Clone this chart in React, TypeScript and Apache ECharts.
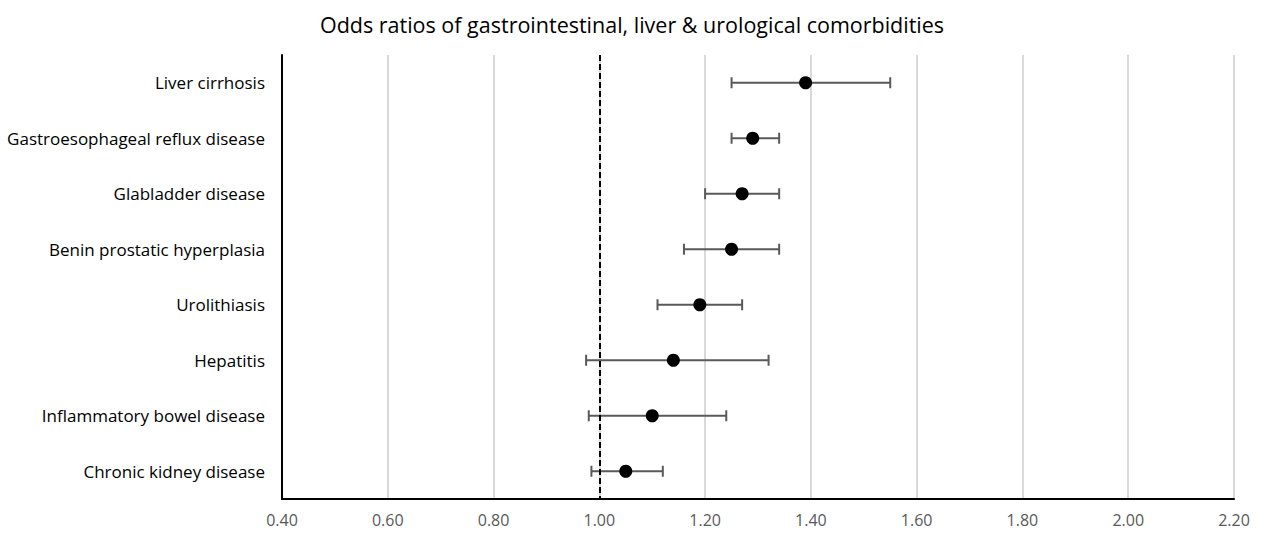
import React, { useEffect, useRef } from "react";
import * as echarts from "echarts";

const categories = [
  "Liver cirrhosis",
  "Gastroesophageal reflux disease",
  "Glabladder disease",
  "Benin prostatic hyperplasia",
  "Urolithiasis",
  "Hepatitis",
  "Inflammatory bowel disease",
  "Chronic kidney disease",
];
const oddsRatios = [1.39, 1.29, 1.27, 1.25, 1.19, 1.14, 1.1, 1.05];
const ciLow = [1.25, 1.25, 1.2, 1.16, 1.11, 0.975, 0.98, 0.985];
const ciHigh = [1.55, 1.34, 1.34, 1.34, 1.27, 1.32, 1.24, 1.12];
const referenceLine = 1.0;
const titleText = "Odds ratios of gastrointestinal, liver & urological comorbidities";

export default function App() {
  const ref = useRef<HTMLDivElement>(null);
  useEffect(() => {
    if (!ref.current) return;
    const chart = echarts.init(ref.current, undefined, { renderer: "svg" });
    const font = "'Open Sans', 'Liberation Sans', sans-serif";
    chart.setOption({
      animation: false,
      backgroundColor: "#ffffff",
      title: {
        text: titleText,
        left: 627,
        textAlign: "center",
        top: 8,
        textStyle: { fontFamily: font, fontSize: 21.5, fontWeight: "normal", color: "#000" },
      },
      grid: { left: 282, right: 30, top: 55, bottom: 41, containLabel: false },
      xAxis: {
        type: "value",
        min: 0.4,
        max: 2.2,
        interval: 0.2,
        axisLine: { show: true, onZero: false, lineStyle: { color: "#000", width: 2 } },
        axisTick: { show: false },
        splitLine: { show: true, lineStyle: { color: "#d9d9d9", width: 2 } },
        axisLabel: {
          formatter: (v: number) => v.toFixed(2),
          color: "#595959",
          fontFamily: font,
          fontSize: 16,
          margin: 13,
        },
      },
      yAxis: {
        type: "category",
        data: categories,
        inverse: true,
        axisLine: { show: true, lineStyle: { color: "#000", width: 2 } },
        axisTick: { show: false },
        splitLine: { show: false },
        axisLabel: { color: "#000", fontFamily: font, fontSize: 17, margin: 17 },
      },
      series: [
        {
          type: "custom",
          name: "CI",
          data: categories.map((c, i) => [ciLow[i], ciHigh[i], i]),
          encode: { x: [0, 1], y: 2 },
          renderItem: (params: any, api: any) => {
            const lo = api.coord([api.value(0), api.value(2)]);
            const hi = api.coord([api.value(1), api.value(2)]);
            const h = 5.5;
            const style = { stroke: "#595959", lineWidth: 2 };
            return {
              type: "group",
              children: [
                { type: "line", shape: { x1: lo[0], y1: lo[1], x2: hi[0], y2: hi[1] }, style },
                { type: "line", shape: { x1: lo[0], y1: lo[1] - h, x2: lo[0], y2: lo[1] + h }, style },
                { type: "line", shape: { x1: hi[0], y1: hi[1] - h, x2: hi[0], y2: hi[1] + h }, style },
              ],
            };
          },
          z: 2,
        },
        {
          type: "scatter",
          name: "OR",
          data: categories.map((c, i) => [oddsRatios[i], c]),
          symbol: "circle",
          symbolSize: 13,
          itemStyle: { color: "#000", opacity: 1 },
          z: 3,
          markLine: {
            silent: true,
            symbol: "none",
            label: { show: false },
            lineStyle: { color: "#000", type: [6, 3], width: 2 },
            data: [{ xAxis: referenceLine }],
          },
        },
      ],
    });
    return () => chart.dispose();
  }, []);
  return (
    <div
      ref={ref}
      style={{ position: "fixed", left: 0, top: 0, width: 1264, height: 540, background: "#fff" }}
    />
  );
}
